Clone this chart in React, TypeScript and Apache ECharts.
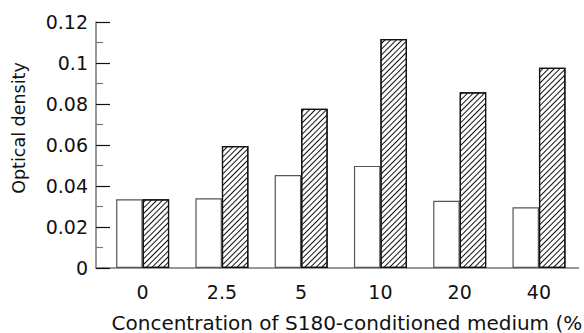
import React, { useEffect, useRef } from "react";
import * as echarts from "echarts";

const categories = ["0", "2.5", "5", "10", "20", "40"];
const controlValues = [0.0335, 0.034, 0.0454, 0.0498, 0.0328, 0.0296];
const treatedValues = [0.0335, 0.0595, 0.0777, 0.1117, 0.0857, 0.0977];
const yTicks = { min: 0, max: 0.12, interval: 0.02 };

const FONT = "DejaVu Sans";

export default function App() {
  const ref = useRef<HTMLDivElement>(null);
  useEffect(() => {
    if (!ref.current) return;
    const chart = echarts.init(ref.current, undefined, { renderer: "svg" });
    chart.setOption({
      animation: false,
      backgroundColor: "#fff",
      grid: {
        left: 103,
        right: 5.4,
        top: 22,
        bottom: 65,
        containLabel: false,
        outerBoundsMode: "none",
      },
      xAxis: {
        type: "category",
        data: categories,
        axisLine: { show: true, lineStyle: { color: "#777", width: 1.5 } },
        axisTick: { show: false },
        axisLabel: { color: "#111", fontSize: 19, fontFamily: FONT, margin: 14 },
        name: "Concentration of S180-conditioned medium (%)",
        nameLocation: "middle",
        nameGap: 45,
        nameTextStyle: { color: "#111", fontSize: 20, fontFamily: FONT, padding: [0, 0, 0, 20] },
      },
      yAxis: {
        type: "value",
        min: yTicks.min,
        max: yTicks.max,
        interval: yTicks.interval,
        offset: 7,
        axisLine: { show: true, lineStyle: { color: "#777", width: 1.5 } },
        axisTick: { show: true, inside: true, length: 14, lineStyle: { color: "#111", width: 1.2 } },
        minorTick: { show: true, splitNumber: 2, length: 7, lineStyle: { color: "#777", width: 1.2 } },
        splitLine: { show: false },
        axisLabel: {
          color: "#111",
          fontSize: 19,
          fontFamily: FONT,
          margin: 8,
          formatter: (v: number) => String(Math.round(v * 100) / 100),
        },
        name: "Optical density",
        nameLocation: "middle",
        nameGap: 68,
        nameTextStyle: { color: "#111", fontSize: 17.5, fontFamily: FONT, padding: [0, 0, 0, 34] },
      },
      graphic: [
        {
          type: "line",
          shape: { x1: 95.5, y1: 268, x2: 104, y2: 268 },
          style: { stroke: "#777", lineWidth: 1.5 },
        },
      ],
      series: [
        {
          type: "bar",
          data: controlValues,
          barWidth: 26.5,
          barGap: "0%",
          itemStyle: { color: "#fff", borderColor: "#555", borderWidth: 1.2 },
        },
        {
          type: "bar",
          data: treatedValues,
          barWidth: 26.5,
          barGap: "0%",
          itemStyle: {
            color: "#fff",
            borderColor: "#111",
            borderWidth: 1.2,
            decal: {
              symbol: "rect",
              symbolSize: 1,
              dashArrayX: [1, 0],
              dashArrayY: [0.8, 2.4],
              rotation: -Math.PI / 4,
              color: "#111",
            },
          },
        },
      ],
    });
    return () => chart.dispose();
  }, []);
  return (
    <div
      ref={ref}
      style={{ position: "absolute", left: 0, top: 0, width: 584, height: 333 }}
    />
  );
}
